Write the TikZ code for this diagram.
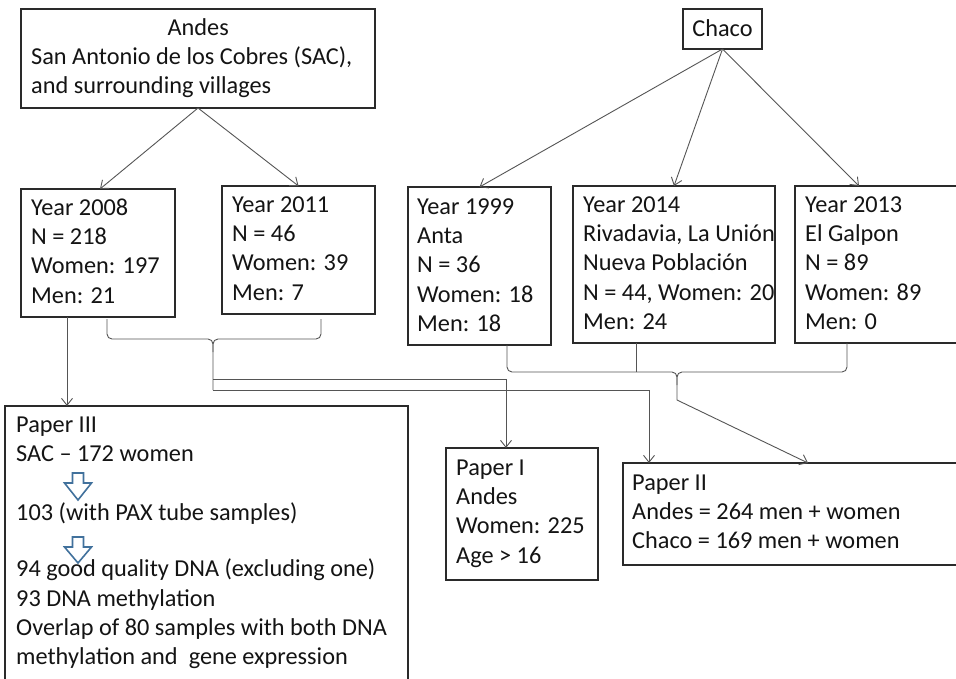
\documentclass[tikz,border=0pt]{standalone}
\usepackage{fontspec}
\setmainfont{Carlito}
\usetikzlibrary{arrows.meta}
\definecolor{linegray}{HTML}{555555}
\definecolor{boxline}{HTML}{2A2A2A}
\definecolor{arrowblue}{HTML}{41719C}
\definecolor{txtcol}{HTML}{141414}
\tikzset{
  box/.style={draw=boxline, line width=1.1pt, inner sep=0pt, outer sep=0pt, anchor=north west},
  txt/.style={anchor=north west, inner sep=0pt, align=left, text=txtcol,
              font=\fontsize{24.3}{29.3}\selectfont},
  conn/.style={draw=linegray, line width=0.9pt},
  arr/.style={conn, -{Straight Barb[length=7pt,width=11pt]}},
  bracepath/.style={conn, rounded corners=5pt},
  hollow/.style={draw=arrowblue, line width=1.6pt, fill=white, line join=miter},
}
\begin{document}
\begin{tikzpicture}[x=1pt, y=-1pt]
\useasboundingbox (0,0) rectangle (956,678);
\fill[white] (0,0) rectangle (956,678);
\clip (0,0) rectangle (956,678);

% ---------- boxes ----------
\node[box, minimum width=354pt, minimum height=99pt]  (andes) at (21,9)   {};
\node[box, minimum width=79pt,  minimum height=40pt]  (chaco) at (683,9)  {};
\node[box, minimum width=154pt, minimum height=128pt] (y2008) at (21,189) {};
\node[box, minimum width=153pt, minimum height=128pt] (y2011) at (222,186) {};
\node[box, minimum width=143pt, minimum height=158pt] (y1999) at (408,187) {};
\node[box, minimum width=202pt, minimum height=157pt] (y2014) at (573,186) {};
\node[box, minimum width=190pt, minimum height=157pt] (y2013) at (795,186) {};
\node[box, minimum width=403pt, minimum height=320pt] (p3)    at (5,406)  {};
\node[box, minimum width=152pt, minimum height=132pt] (p1)    at (446,448) {};
\node[box, minimum width=360pt, minimum height=102pt] (p2)    at (623,463) {};

% ---------- texts ----------
\node[txt] (tandes) at (31,14.5) {\strut\makebox[334pt]{Andes}\\San Antonio de los Cobres (SAC),\\and surrounding villages};
\node[txt, anchor=base] (tchaco) at (722.5,36) {Chaco};
\node[txt] (t2008) at (31,194.5) {\strut Year 2008\\N = 218\\Women: 197\\Men: 21};
\node[txt] (t2011) at (232,191.5) {\strut Year 2011\\N = 46\\Women: 39\\Men: 7};
\node[txt] (t1999) at (417,193.5) {\strut Year 1999\\Anta\\N = 36\\Women: 18\\Men: 18};
\node[txt] (t2014) at (583,191.5) {\strut Year 2014\\Rivadavia, La Unión\\Nueva Población\\N = 44, Women: 20\\Men: 24};
\node[txt] (t2013) at (805,191.5) {\strut Year 2013\\El Galpon\\N = 89\\Women: 89\\Men: 0};
\node[txt] (tp3) at (16,411.5) {\strut Paper III\\SAC – 172 women\\[29.3pt]103 (with PAX tube samples)\\[27.3pt]94 good quality DNA (excluding one)\\93 DNA methylation\\Overlap of 80 samples with both DNA\\methylation and \ gene expression};
\node[txt] (tp1) at (456,454.5) {\strut Paper I\\Andes\\Women: 225\\Age > 16};
\node[txt] (tp2) at (632,469.5) {\strut Paper II\\Andes = 264 men + women\\Chaco = 169 men + women};

% ---------- tree arrows ----------
\draw[arr] (andes.south) -- ([xshift=2pt]y2008.north);
\draw[arr] (andes.south) -- (y2011.north);
\draw[arr] (chaco.south) -- (y1999.north);
\draw[arr] (chaco.south) -- (y2014.north);
\draw[arr] (chaco.south) -- ([xshift=64pt]y2013.north west);

% ---------- Year 2008 to Paper III ----------
\draw[arr] ([xshift=46pt]y2008.south west) -- ([xshift=62pt]p3.north west);

% ---------- Andes brace ----------
\coordinate (abL) at (107,319);
\coordinate (abR) at (321,319);
\coordinate (abT) at (213,339);
\draw[bracepath] (abL) -- (107,339) -- (abT) -- (213,390);
\draw[bracepath] (abR) -- (321,339) -- (abT) -- (213,352);
\draw[arr] (213,379) -- (506,379) -- (p1.north -| 506,0);
\draw[arr] (213,390) -- (649,390) -- (p2.north -| 649,0);

% ---------- Chaco brace ----------
\coordinate (cbL) at (507,345);
\coordinate (cbR) at (847,343);
\coordinate (cbT) at (677,372);
\coordinate (cbE) at (677,400);
\draw[bracepath] (cbL) -- (507,372) -- (cbT) -- (cbE);
\draw[bracepath] (cbR) -- (847,372) -- (cbT) -- (677,385);
\draw[conn] (y2014.south -| 636,0) -- (636,372);
\draw[arr] (cbE) -- ([xshift=185pt]p2.north west);

% ---------- hollow blue arrows ----------
\draw[hollow] (72.5,473) -- (83.5,473) -- (83.5,483) -- (91.5,483) -- (78,500) -- (64.5,483) -- (72.5,483) -- cycle;
\draw[hollow] (72.5,537) -- (83.5,537) -- (83.5,547) -- (91.5,547) -- (78,563) -- (64.5,547) -- (72.5,547) -- cycle;
\end{tikzpicture}
\end{document}
